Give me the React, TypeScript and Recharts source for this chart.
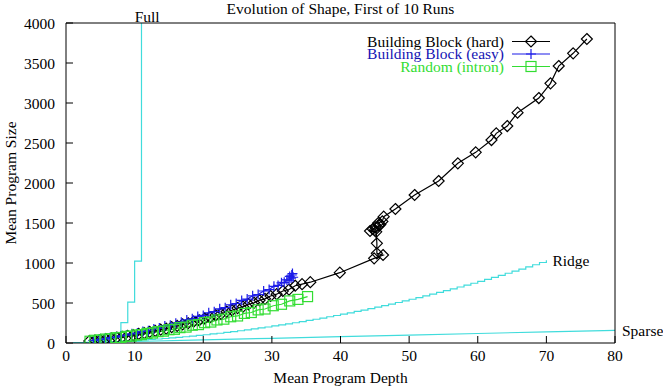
import React from 'react';
import { ComposedChart, Line, XAxis, YAxis, ReferenceDot, Legend } from 'recharts';

if (typeof document !== 'undefined' && document.body) document.body.style.margin = '0';

const FONT = '"Liberation Serif", "Times New Roman", serif';
const FS = 15.5;
const CYAN = '#40dcdc';
const BLACK = '#000000';
const BLUE = '#1c1ce8';
const GREEN = '#33dd33';

const chartTitle = 'Evolution of Shape, First of 10 Runs';
const xTitle = 'Mean Program Depth';
const yTitle = 'Mean Program Size';

const depthTicks = [0, 10, 20, 30, 40, 50, 60, 70, 80];
const sizeTicks = [0, 500, 1000, 1500, 2000, 2500, 3000, 3500, 4000];

const seriesNames = ['Building Block (hard)', 'Building Block (easy)', 'Random (intron)'];
const seriesColors = [BLACK, BLUE, GREEN];
const seriesTextColors = ['#000000', '#1414b4', '#33dd33'];
const seriesMarkers = ['diamond', 'plus', 'square'];
const curveLabels = ['Full', 'Ridge', 'Sparse'];

// Building Block (hard)
const hardDepth = [3.4, 4.2, 5.0, 5.8, 6.6, 7.4, 8.2, 9.0, 9.8, 10.6, 11.4, 12.2, 13.0, 13.8, 14.6, 15.4, 16.2, 17.0, 17.8, 18.6, 19.4, 20.2, 21.0, 21.8, 22.6, 23.4, 24.2, 25.0, 25.8, 26.6, 27.4, 28.2, 29.0, 29.8, 30.7, 31.6, 32.5, 33.4, 34.4, 35.6, 39.9, 44.9, 46.2, 45.3, 45.3, 45.2, 44.3, 44.7, 45.1, 45.6, 45.0, 45.8, 45.5, 46.1, 46.3, 48.0, 50.8, 54.3, 57.1, 59.7, 62.0, 62.7, 64.3, 65.8, 68.9, 70.6, 71.8, 73.9, 75.9];
const hardSize = [24, 31, 38, 49, 57, 69, 77, 90, 99, 114, 124, 140, 151, 168, 180, 199, 213, 233, 247, 268, 284, 306, 322, 348, 365, 391, 409, 436, 455, 484, 503, 534, 552, 588, 610, 650, 668, 716, 735, 760, 879, 1058, 1100, 1121, 1246, 1390, 1400, 1425, 1445, 1470, 1410, 1480, 1500, 1520, 1579, 1675, 1850, 2025, 2246, 2383, 2537, 2621, 2712, 2879, 3062, 3246, 3462, 3621, 3800];

// Building Block (easy)
const easyDepth = [4.0, 4.8, 5.6, 6.4, 7.2, 8.0, 8.8, 9.6, 10.4, 11.2, 12.0, 12.8, 13.6, 14.4, 15.2, 16.0, 16.8, 17.6, 18.4, 19.2, 20.0, 20.8, 21.6, 22.4, 23.2, 24.0, 24.8, 25.6, 26.4, 27.2, 28.0, 28.8, 29.6, 30.3, 30.9, 31.4, 31.8, 32.2, 32.5, 32.8, 33.1, 32.9, 32.6, 33.0];
const easySize = [33, 46, 52, 66, 73, 89, 98, 115, 124, 144, 153, 176, 186, 211, 222, 248, 260, 289, 302, 332, 345, 378, 392, 427, 441, 478, 494, 532, 549, 590, 606, 650, 668, 708, 720, 752, 758, 788, 786, 812, 822, 850, 832, 868];

// Random (intron)
const randDepth = [3.5, 4.2, 5.0, 5.8, 6.5, 7.3, 8.0, 8.8, 9.5, 10.3, 11.0, 11.8, 12.6, 13.4, 14.2, 15.0, 15.8, 16.6, 17.5, 18.4, 19.3, 20.2, 21.1, 22.0, 23.0, 24.0, 25.0, 26.0, 27.0, 28.0, 29.0, 30.2, 31.4, 32.6, 33.8, 35.2];
const randSize = [22, 34, 38, 49, 53, 66, 69, 83, 86, 101, 104, 120, 125, 142, 148, 166, 171, 192, 199, 222, 230, 254, 262, 288, 298, 328, 338, 370, 381, 414, 425, 466, 484, 526, 545, 580];

// Full
const fullDepth = [1, 2, 3, 4, 5, 6, 7, 8, 9, 10, 11];
const fullSize = [1, 3, 7, 15, 31, 63, 127, 255, 511, 1023, 4095];

// Ridge
const ridgeDepth = [1, 2, 3, 4, 5, 6, 7, 8, 9, 10, 11, 12, 13, 14, 15, 16, 17, 18, 19, 20, 21, 22, 23, 24, 25, 26, 27, 28, 29, 30, 31, 32, 33, 34, 35, 36, 37, 38, 39, 40, 41, 42, 43, 44, 45, 46, 47, 48, 49, 50, 51, 52, 53, 54, 55, 56, 57, 58, 59, 60, 61, 62, 63, 64, 65, 66, 67, 68, 69, 70];
const ridgeSize = [1, 3, 6, 8, 11, 15, 19, 23, 27, 32, 38, 44, 50, 56, 63, 70, 78, 86, 95, 103, 113, 122, 132, 143, 153, 164, 176, 188, 200, 213, 226, 239, 253, 267, 282, 297, 312, 328, 344, 360, 377, 395, 412, 430, 449, 467, 487, 506, 526, 547, 567, 588, 610, 632, 654, 677, 700, 723, 747, 771, 796, 821, 846, 872, 898, 924, 951, 978, 1006, 1034];

// Sparse
const sparseDepth = [1, 10, 20, 30, 40, 50, 60, 70, 80];
const sparseSize = [1, 19, 39, 59, 79, 99, 119, 139, 157];

const pairs = (xs: number[], ys: number[]) => xs.map((d, i) => ({ d, s: ys[i] }));
const hardData = pairs(hardDepth, hardSize);
const easyData = pairs(easyDepth, easySize);
const randData = pairs(randDepth, randSize);
const fullData = pairs(fullDepth, fullSize);
const ridgeData = pairs(ridgeDepth, ridgeSize);
const sparseData = pairs(sparseDepth, sparseSize);

function Marker({ kind, cx, cy, color }: any) {
  if (cx == null || cy == null || isNaN(cx) || isNaN(cy)) return <g />;
  if (kind === 'diamond') {
    const r = 5.5;
    return <path d={`M${cx},${cy - r}L${cx + r},${cy}L${cx},${cy + r}L${cx - r},${cy}Z`} fill="none" stroke={color} strokeWidth={1.2} />;
  }
  if (kind === 'plus') {
    const r = 5;
    return <path d={`M${cx - r},${cy}H${cx + r}M${cx},${cy - r}V${cy + r}`} fill="none" stroke={color} strokeWidth={1.2} />;
  }
  const r = 5;
  return <rect x={cx - r} y={cy - r} width={2 * r} height={2 * r} fill="none" stroke={color} strokeWidth={1.2} />;
}

const makeDot = (kind: string, color: string) => (props: any) => {
  const { cx, cy, index } = props;
  return <Marker key={`${kind}-${index}`} kind={kind} cx={cx} cy={cy} color={color} />;
};

const LegendBox = () => (
  <svg width={230} height={45} style={{ display: 'block', overflow: 'visible' }}>
    {seriesNames.map((name, i) => {
      const cy = 8.5 + i * 12.5;
      return (
        <g key={name}>
          <text x={164} y={cy + 5} textAnchor="end" fill={seriesTextColors[i]} fontFamily={FONT} fontSize={FS}>{name}</text>
          <line x1={172} x2={210} y1={cy} y2={cy} stroke={seriesColors[i]} strokeWidth={1.2} />
          <Marker kind={seriesMarkers[i]} cx={191} cy={cy} color={seriesColors[i]} />
        </g>
      );
    })}
  </svg>
);

const TitleLabel = (props: any) => {
  const vb = props.viewBox || { x: 66, y: 22, width: 549, height: 1 };
  return <text x={vb.x + vb.width / 2} y={vb.y - 8} textAnchor="middle" fill="#000" fontFamily={FONT} fontSize={FS}>{chartTitle}</text>;
};

const XTitleLabel = (props: any) => {
  const vb = props.viewBox || { x: 66, y: 343, width: 549, height: 45 };
  return <text x={vb.x + vb.width / 2} y={vb.y + 40} textAnchor="middle" fill="#000" fontFamily={FONT} fontSize={FS}>{xTitle}</text>;
};

const YTitleLabel = (props: any) => {
  const vb = props.viewBox || { x: 0, y: 23, width: 66, height: 320 };
  const x = vb.x + 10;
  const y = vb.y + vb.height / 2;
  return <text x={x} y={y} transform={`rotate(-90 ${x} ${y})`} textAnchor="middle" dominantBaseline="central" fill="#000" fontFamily={FONT} fontSize={FS}>{yTitle}</text>;
};

const curveLabel = (text: string, dx: number, dy: number) => (props: any) => {
  const vb = props.viewBox || { x: 0, y: 0 };
  return <text x={vb.x + dx} y={vb.y + dy} textAnchor="start" fill="#000" fontFamily={FONT} fontSize={FS}>{text}</text>;
};

const tickStyle = { fill: '#000', fontSize: FS, fontFamily: FONT };

export default function App() {
  return (
    <div style={{ width: 663, height: 388, background: '#fff' }}>
      <ComposedChart width={663} height={388} margin={{ top: 22, right: 47, bottom: 0, left: 0 }} style={{ overflow: 'visible' }}>
        <XAxis
          dataKey="d"
          type="number"
          domain={[0, 80]}
          ticks={depthTicks}
          allowDataOverflow
          orientation="bottom"
          height={45}
          tickSize={-7}
          tickMargin={14}
          tick={tickStyle}
          axisLine={{ stroke: '#000' }}
          tickLine={{ stroke: '#000' }}
          label={{ content: XTitleLabel }}
        />
        <XAxis
          xAxisId="top"
          dataKey="d"
          type="number"
          domain={[0, 80]}
          ticks={depthTicks}
          allowDataOverflow
          orientation="top"
          height={1}
          tickSize={-7}
          tick={false}
          axisLine={{ stroke: '#000' }}
          tickLine={{ stroke: '#000' }}
          label={{ content: TitleLabel }}
        />
        <YAxis
          type="number"
          domain={[0, 4000]}
          ticks={sizeTicks}
          allowDataOverflow
          width={66}
          tickSize={-7}
          tickMargin={18}
          tick={tickStyle}
          axisLine={{ stroke: '#000' }}
          tickLine={{ stroke: '#000' }}
          label={{ content: YTitleLabel }}
        />
        <YAxis
          yAxisId="right"
          orientation="right"
          type="number"
          domain={[0, 4000]}
          ticks={sizeTicks}
          allowDataOverflow
          width={1}
          tickSize={-7}
          tick={false}
          axisLine={{ stroke: '#000' }}
          tickLine={{ stroke: '#000' }}
        />
        <Legend verticalAlign="middle" align="center" layout="horizontal" content={LegendBox}
          wrapperStyle={{ position: 'absolute', left: 340, top: 33, width: 230, height: 45, margin: 0, padding: 0 }} />
        <Line name={seriesNames[0]} data={hardData} dataKey="s" type="linear" stroke={BLACK} strokeWidth={1.2} dot={makeDot('diamond', BLACK)} activeDot={false} isAnimationActive={false} />
        <Line name={seriesNames[1]} data={easyData} dataKey="s" type="linear" stroke={BLUE} strokeWidth={1.2} dot={makeDot('plus', BLUE)} activeDot={false} isAnimationActive={false} />
        <Line name={seriesNames[2]} data={randData} dataKey="s" type="linear" stroke={GREEN} strokeWidth={1.2} dot={makeDot('square', GREEN)} activeDot={false} isAnimationActive={false} />
        <Line name={curveLabels[0]} data={fullData} dataKey="s" type="stepAfter" stroke={CYAN} strokeWidth={1.2} dot={false} activeDot={false} legendType="none" isAnimationActive={false} />
        <Line name={curveLabels[1]} data={ridgeData} dataKey="s" type="stepAfter" stroke={CYAN} strokeWidth={1.2} dot={false} activeDot={false} legendType="none" isAnimationActive={false} />
        <Line name={curveLabels[2]} data={sparseData} dataKey="s" type="linear" stroke={CYAN} strokeWidth={1.2} dot={false} activeDot={false} legendType="none" isAnimationActive={false} />
        <ReferenceDot x={fullDepth[9]} y={4000} r={0} fill="none" stroke="none" ifOverflow="visible" label={{ content: curveLabel(curveLabels[0], 0, -1) }} />
        <ReferenceDot x={ridgeDepth[ridgeDepth.length - 1]} y={ridgeSize[ridgeSize.length - 1]} r={0} fill="none" stroke="none" ifOverflow="visible" label={{ content: curveLabel(curveLabels[1], 6, 6) }} />
        <ReferenceDot x={sparseDepth[sparseDepth.length - 1]} y={sparseSize[sparseSize.length - 1]} r={0} fill="none" stroke="none" ifOverflow="visible" label={{ content: curveLabel(curveLabels[2], 7, 6) }} />
      </ComposedChart>
    </div>
  );
}
